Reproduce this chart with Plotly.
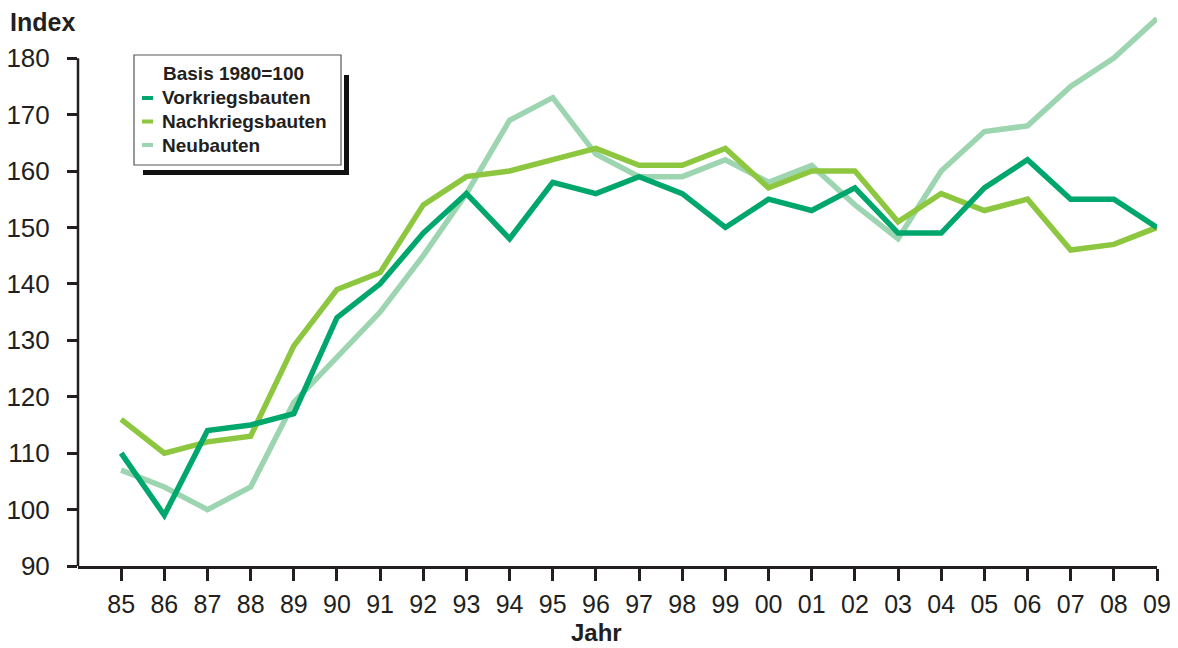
import plotly.graph_objects as go

# Jahre (zweistellig) und Indexwerte, Basis 1980 = 100
jahre = ["85", "86", "87", "88", "89", "90", "91", "92", "93", "94", "95", "96",
         "97", "98", "99", "00", "01", "02", "03", "04", "05", "06", "07", "08", "09"]

vorkriegsbauten = [110, 99, 114, 115, 117, 134, 140, 149, 156, 148, 158, 156,
                   159, 156, 150, 155, 153, 157, 149, 149, 157, 162, 155, 155, 150]

nachkriegsbauten = [116, 110, 112, 113, 129, 139, 142, 154, 159, 160, 162, 164,
                    161, 161, 164, 157, 160, 160, 151, 156, 153, 155, 146, 147, 150]

neubauten = [107, 104, 100, 104, 119, 127, 135, 145, 156, 169, 173, 163,
             159, 159, 162, 158, 161, 154, 148, 160, 167, 168, 175, 180, 187]

y_ticks = [90, 100, 110, 120, 130, 140, 150, 160, 170, 180]

serien = [
    ("Vorkriegsbauten", vorkriegsbauten, "#00A76C"),
    ("Nachkriegsbauten", nachkriegsbauten, "#8DC63F"),
    ("Neubauten", neubauten, "#9DD5B1"),
]

TEXT = "#231F20"
FONT = "Liberation Sans, Arial, sans-serif"

W, H = 1178, 648
L, R, T, B = 78, 21, 13, 82
PW, PH = W - L - R, H - T - B


def px(x):
    return (x - L) / PW


def py(y):
    return (H - B - y) / PH


fig = go.Figure()
# reversed so the dark line sits on top
for name, values, color in reversed(serien):
    fig.add_trace(go.Scatter(
        x=jahre, y=values, mode="lines", name=name,
        line=dict(color=color, width=5.5), showlegend=False,
    ))

shapes = []
annotations = []

# y axis line from 90 to 180 only
shapes.append(dict(type="line", xref="paper", yref="y", x0=0, x1=0,
                   y0=y_ticks[0], y1=y_ticks[-1],
                   line=dict(color=TEXT, width=2.5)))

# legend box with drop shadow
bx0, bx1, by0, by1 = 134, 341, 55, 165
shapes.append(dict(type="path", xref="paper", yref="paper",
                   path=f"M {px(346.5)},{py(75)} L {px(346.5)},{py(172.5)} L {px(143)},{py(172.5)}",
                   line=dict(color="#111111", width=5)))
shapes.append(dict(type="rect", xref="paper", yref="paper",
                   x0=px(bx0), x1=px(bx1), y0=py(by1), y1=py(by0),
                   fillcolor="white", line=dict(color="#555555", width=1.2)))

annotations.append(dict(xref="paper", yref="paper", x=px(161), y=py(74),
                        xanchor="left", yanchor="middle", showarrow=False,
                        text="<b>Basis 1980=100</b>",
                        font=dict(size=19, color=TEXT, family=FONT)))
for i, (name, _, color) in enumerate(serien):
    yy = 98 + i * 23.5
    shapes.append(dict(type="line", xref="paper", yref="paper",
                       x0=px(142), x1=px(153), y0=py(yy), y1=py(yy),
                       line=dict(color=color, width=4)))
    annotations.append(dict(xref="paper", yref="paper", x=px(160), y=py(yy),
                            xanchor="left", yanchor="middle", showarrow=False,
                            text=f"<b>{name}</b>",
                            font=dict(size=19, color=TEXT, family=FONT)))

# axis titles
annotations.append(dict(xref="paper", yref="paper", x=px(8), y=py(22),
                        xanchor="left", yanchor="middle", showarrow=False,
                        text="<b>Index</b>",
                        font=dict(size=25, color=TEXT, family=FONT)))
annotations.append(dict(xref="paper", yref="paper", x=px(596), y=py(633),
                        xanchor="center", yanchor="middle", showarrow=False,
                        text="<b>Jahr</b>",
                        font=dict(size=24, color=TEXT, family=FONT)))

fig.update_layout(
    width=W, height=H,
    margin=dict(l=L, r=R, t=T, b=B),
    paper_bgcolor="white", plot_bgcolor="white",
    shapes=shapes, annotations=annotations,
    xaxis=dict(
        type="category", range=[-1, 24], automargin=False,
        showgrid=False, zeroline=False,
        showline=True, linecolor=TEXT, linewidth=2.5,
        ticks="outside", ticklen=12, tickwidth=2.5, tickcolor=TEXT,
        tickfont=dict(size=25, color=TEXT, family=FONT),
        ticklabelstandoff=2,
    ),
    yaxis=dict(
        range=[90, 188], tickvals=y_ticks, automargin=False,
        showgrid=False, zeroline=False, showline=False,
        ticks="outside", ticklen=10, tickwidth=2.5, tickcolor=TEXT,
        tickfont=dict(size=26, color=TEXT, family=FONT),
        ticklabelstandoff=12,
    ),
)

fig.write_html("out.html")
